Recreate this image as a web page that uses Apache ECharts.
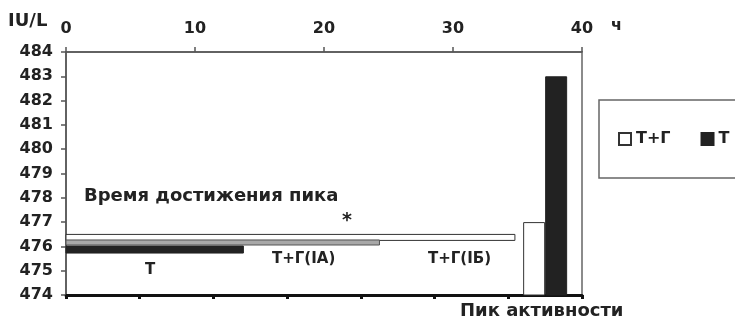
<!DOCTYPE html>
<html>
<head>
<meta charset="utf-8">
<script src="https://cdn.jsdelivr.net/npm/echarts@6/dist/echarts.min.js"></script>
<style>html,body{margin:0;padding:0;background:#fff}#c{width:735px;height:321px}</style>
</head>
<body>
<div id="c"></div>
<script>
// ---- data ----
var peakCategories = ['1', '2', '3', '4', '5', '6', '7'];
var peakTG = [null, null, null, null, null, null, 477];
var peakT = [null, null, null, null, null, null, 483];
var timeLabels = ['Т+Г(IБ)', 'Т+Г(IА)', 'Т'];
var timeHours = [34.8, 24.3, 13.75];
var timeLevels = [476.37, 476.16, 475.87];
var yMin = 474, yMax = 484;
var xMin = 0, xMax = 40, xStep = 10;

// ---- styles ----
var FONT = '"DejaVu Sans", Arial, sans-serif';
var hStyles = [
  {h: 6, fill: '#ffffff', stroke: '#333', lw: 1},
  {h: 5, fill: '#a8a8a8', stroke: '#555', lw: 1},
  {h: 7, fill: '#222222', stroke: '#222', lw: 1}
];

var chart = echarts.init(document.getElementById('c'), null, {renderer: 'canvas'});
var option = {
  animation: false,
  backgroundColor: '#fff',
  grid: {left: 66, right: 153, top: 52, bottom: 26, show: true, borderColor: '#666', borderWidth: 1.5, backgroundColor: 'transparent'},
  legend: {
    orient: 'horizontal',
    left: 599, top: 100, width: 300,
    padding: [31, 40, 31, 19],
    borderColor: '#666', borderWidth: 1.5,
    itemWidth: 12, itemHeight: 12, itemGap: 30,
    icon: 'rect',
    textStyle: {fontFamily: FONT, fontWeight: 'bold', fontSize: 16, color: '#222'},
    data: ['Т+Г', 'Т']
  },
  xAxis: [
    {
      type: 'category', position: 'bottom', data: peakCategories, boundaryGap: true,
      axisLine: {lineStyle: {color: '#111', width: 3}},
      axisTick: {show: true, length: 4, lineStyle: {color: '#111', width: 3}},
      axisLabel: {show: false}, splitLine: {show: false}
    },
    {
      type: 'value', position: 'top', min: xMin, max: xMax, interval: xStep,
      axisLine: {show: true, lineStyle: {color: '#555', width: 1.5}},
      axisTick: {show: true, inside: false, length: 5, lineStyle: {color: '#555', width: 1.5}},
      axisLabel: {margin: 15, fontFamily: FONT, fontWeight: 'bold', fontSize: 16, color: '#222'},
      splitLine: {show: false}
    }
  ],
  yAxis: [
    {
      type: 'value', min: yMin, max: yMax, interval: 1,
      axisLine: {show: true, lineStyle: {color: '#555', width: 1.5}},
      axisTick: {show: true, length: 5, lineStyle: {color: '#555', width: 1.5}},
      axisLabel: {margin: 13, fontFamily: FONT, fontWeight: 'bold', fontSize: 16, color: '#222'},
      splitLine: {show: false}
    }
  ],
  series: [
    {
      name: 'Т+Г', type: 'bar', xAxisIndex: 0, yAxisIndex: 0, data: peakTG,
      barWidth: 22, barGap: '0%',
      itemStyle: {color: '#ffffff', borderColor: '#333', borderWidth: 1}
    },
    {
      name: 'Т', type: 'bar', xAxisIndex: 0, yAxisIndex: 0, data: peakT,
      barWidth: 22, barGap: '0%',
      itemStyle: {color: '#222222', borderColor: '#222', borderWidth: 1}
    },
    {
      name: 'time', type: 'custom', xAxisIndex: 1, yAxisIndex: 0,
      data: timeHours.map(function (v, i) { return [v, timeLevels[i], i]; }),
      encode: {x: 0, y: 1},
      renderItem: function (params, api) {
        var i = api.value(2);
        var st = hStyles[i];
        var end = api.coord([api.value(0), api.value(1)]);
        var start = api.coord([0, api.value(1)]);
        return {
          type: 'rect',
          shape: {x: start[0], y: end[1] - st.h / 2, width: end[0] - start[0], height: st.h},
          style: {fill: st.fill, stroke: st.stroke, lineWidth: st.lw}
        };
      },
      z: 3
    }
  ],
  graphic: [
    {type: 'text', left: 8, top: 12, style: {text: 'IU/L', font: 'bold 18px ' + FONT, fill: '#222'}},
    {type: 'text', left: 611, top: 18, style: {text: 'ч', font: 'bold 16px ' + FONT, fill: '#222'}},
    {type: 'text', left: 84, top: 187, style: {text: 'Время достижения пика', font: 'bold 18px ' + FONT, fill: '#222'}},
    {type: 'text', left: 342, top: 212, style: {text: '*', font: 'bold 19px ' + FONT, fill: '#222'}},
    {type: 'text', left: 145, top: 263, style: {text: timeLabels[2], font: 'bold 15px ' + FONT, fill: '#222'}},
    {type: 'text', left: 272, top: 252, style: {text: timeLabels[1], font: 'bold 15px ' + FONT, fill: '#222'}},
    {type: 'text', left: 428, top: 252, style: {text: timeLabels[0], font: 'bold 15px ' + FONT, fill: '#222'}},
    {type: 'text', left: 460, top: 302, style: {text: 'Пик активности', font: 'bold 18px ' + FONT, fill: '#222'}}
  ]
};
chart.setOption(option);
</script>
</body>
</html>
